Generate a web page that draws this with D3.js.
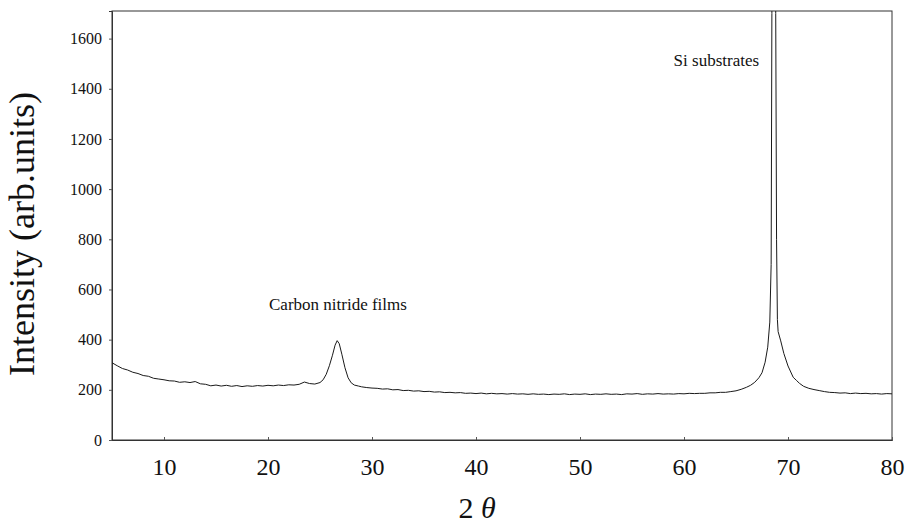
<!DOCTYPE html>
<html>
<head>
<meta charset="utf-8">
<script src="https://cdn.jsdelivr.net/npm/d3@7"></script>
<style>
	html, body { margin: 0; padding: 0; background: #fff; }
	svg { display: block; font-family: 'Liberation Serif', 'DejaVu Serif', serif; }
</style>
</head>
<body>
<svg width="906" height="529"></svg>
<script>
// XRD pattern: 2theta (deg) and intensity (arb. units)
const twoTheta = [
	5.0, 5.5, 6.0, 6.5, 7.0, 7.5, 8.0, 8.5, 9.0, 9.5, 10.0, 10.5, 11.0, 11.5, 12.0, 12.5, 13.0, 13.5, 14.0, 14.5,
	15.0, 15.5, 16.0, 16.5, 17.0, 17.5, 18.0, 18.5, 19.0, 19.5, 20.0, 20.5, 21.0, 21.5, 22.0, 22.5, 23.0, 23.5, 24.0, 24.5,
	25.0, 25.3, 25.6, 25.9, 26.2, 26.45, 26.65, 26.85, 27.1, 27.4, 27.7, 28.0, 28.3, 28.7, 29.0, 29.5, 30.0, 30.5, 31.0, 31.5,
	32.0, 32.5, 33.0, 33.5, 34.0, 34.5, 35.0, 35.5, 36.0, 36.5, 37.0, 37.5, 38.0, 38.5, 39.0, 39.5, 40.0, 40.5, 41.0, 41.5,
	42.0, 42.5, 43.0, 43.5, 44.0, 44.5, 45.0, 45.5, 46.0, 46.5, 47.0, 47.5, 48.0, 48.5, 49.0, 49.5, 50.0, 50.5, 51.0, 51.5,
	52.0, 52.5, 53.0, 53.5, 54.0, 54.5, 55.0, 55.5, 56.0, 56.5, 57.0, 57.5, 58.0, 58.5, 59.0, 59.5, 60.0, 60.5, 61.0, 61.5,
	62.0, 62.5, 63.0, 63.5, 64.0, 64.5, 65.0, 65.5, 66.0, 66.4, 66.8, 67.2, 67.5, 67.8, 68.05, 68.25, 68.38, 68.45, 68.55, 68.7,
	68.82, 68.9, 68.98, 69.05, 69.3, 69.6, 70.0, 70.5, 70.8, 71.1, 71.5, 72.0, 72.5, 73.0, 73.5, 74.0, 74.5, 75.0, 75.5, 76.0,
	76.5, 77.0, 77.5, 78.0, 78.5, 79.0, 79.5, 80.0
];
const intensity = [
	308, 296, 285, 279, 270, 265, 257, 254, 246, 243, 240, 236, 235, 230, 232, 229, 233, 224, 222, 216,
	219, 215, 218, 214, 217, 213, 216, 214, 217, 215, 218, 216, 219, 217, 220, 219, 222, 231, 225, 223,
	229, 240, 262, 296, 338, 378, 396, 384, 342, 288, 248, 228, 219, 215, 212, 209, 207, 206, 203, 204,
	200, 201, 197, 198, 195, 196, 193, 194, 191, 192, 189, 190, 188, 189, 186, 187, 185, 187, 184, 186,
	184, 185, 183, 185, 183, 184, 182, 184, 182, 183, 181, 183, 182, 184, 181, 183, 182, 184, 181, 183,
	182, 184, 182, 183, 181, 184, 183, 185, 182, 184, 183, 185, 183, 184, 183, 185, 184, 186, 185, 186,
	186, 188, 188, 190, 190, 193, 196, 202, 210, 218, 230, 248, 268, 310, 370, 470, 700, 1700, 2600, 2500,
	1700, 800, 480, 432, 395, 345, 295, 250, 238, 226, 214, 206, 201, 197, 193, 190, 189, 187, 188, 185,
	187, 185, 186, 184, 185, 183, 185, 184
];
const xTicks = [10, 20, 30, 40, 50, 60, 70, 80];
const yTicks = [0, 200, 400, 600, 800, 1000, 1200, 1400, 1600];
const peakLabels = [
	{ text: 'Carbon nitride films', at: 20.1, value: 520 },
	{ text: 'Si substrates', at: 59.0, value: 1490 }
];

const points = twoTheta.map((t, i) => ({ t, v: intensity[i] }));

const svg = d3.select('svg');
const margin = { top: 11, right: 14, bottom: 89, left: 112 };
const width = 906 - margin.left - margin.right;
const height = 529 - margin.top - margin.bottom;

const x = d3.scaleLinear().domain([5, 80]).range([0, width]);
const y = d3.scaleLinear().domain([0, 1710]).range([height, 0]);

const g = svg.append('g').attr('transform', `translate(${margin.left},${margin.top})`);

g.append('clipPath')
	.attr('id', 'plot-clip')
	.append('rect')
	.attr('width', width)
	.attr('height', height);

// frame
g.append('rect')
	.attr('width', width)
	.attr('height', height)
	.attr('fill', 'none')
	.attr('stroke', '#333')
	.attr('stroke-width', 1);

// axes
const yAxis = g.append('g')
	.call(d3.axisLeft(y).tickValues(yTicks).tickFormat(d3.format('d')).tickSize(3).tickPadding(7))
	.attr('font-family', 'Liberation Serif')
	.attr('font-size', 16);
yAxis.select('.domain').attr('stroke', '#333');
yAxis.selectAll('.tick line').attr('stroke', '#555');
yAxis.selectAll('.tick text').attr('fill', '#111');

const xAxis = g.append('g')
	.attr('transform', `translate(0,${height})`)
	.call(d3.axisBottom(x).tickValues(xTicks).tickFormat(d3.format('d')).tickSize(-3).tickPadding(18))
	.attr('font-family', 'Liberation Serif')
	.attr('font-size', 24);
xAxis.select('.domain').attr('stroke', '#333');
xAxis.selectAll('.tick line').attr('stroke', '#555');
xAxis.selectAll('.tick text').attr('fill', '#111');

// the diffraction pattern
const line = d3.line()
	.x((d) => x(d.t))
	.y((d) => y(d.v));

g.append('path')
	.datum(points)
	.attr('clip-path', 'url(#plot-clip)')
	.attr('fill', 'none')
	.attr('stroke', '#1a1a1a')
	.attr('stroke-width', 1)
	.attr('stroke-linejoin', 'round')
	.attr('d', line);

// peak annotations
g.selectAll('.peak-label')
	.data(peakLabels)
	.enter()
	.append('text')
	.attr('class', 'peak-label')
	.attr('x', (d) => x(d.at))
	.attr('y', (d) => y(d.value))
	.attr('font-size', 17)
	.attr('fill', '#111')
	.text((d) => d.text);

// axis titles
svg.append('text')
	.attr('transform', `translate(34,234) rotate(-90)`)
	.attr('text-anchor', 'middle')
	.attr('font-size', 36)
	.attr('fill', '#111')
	.text('Intensity (arb.units)');

const xTitle = svg.append('text')
	.attr('x', margin.left + width / 2 - 25)
	.attr('y', 518)
	.attr('text-anchor', 'middle')
	.attr('font-size', 30)
	.attr('fill', '#111');
xTitle.append('tspan').text('2 ');
xTitle.append('tspan').attr('font-style', 'italic').text('θ');
</script>
</body>
</html>
